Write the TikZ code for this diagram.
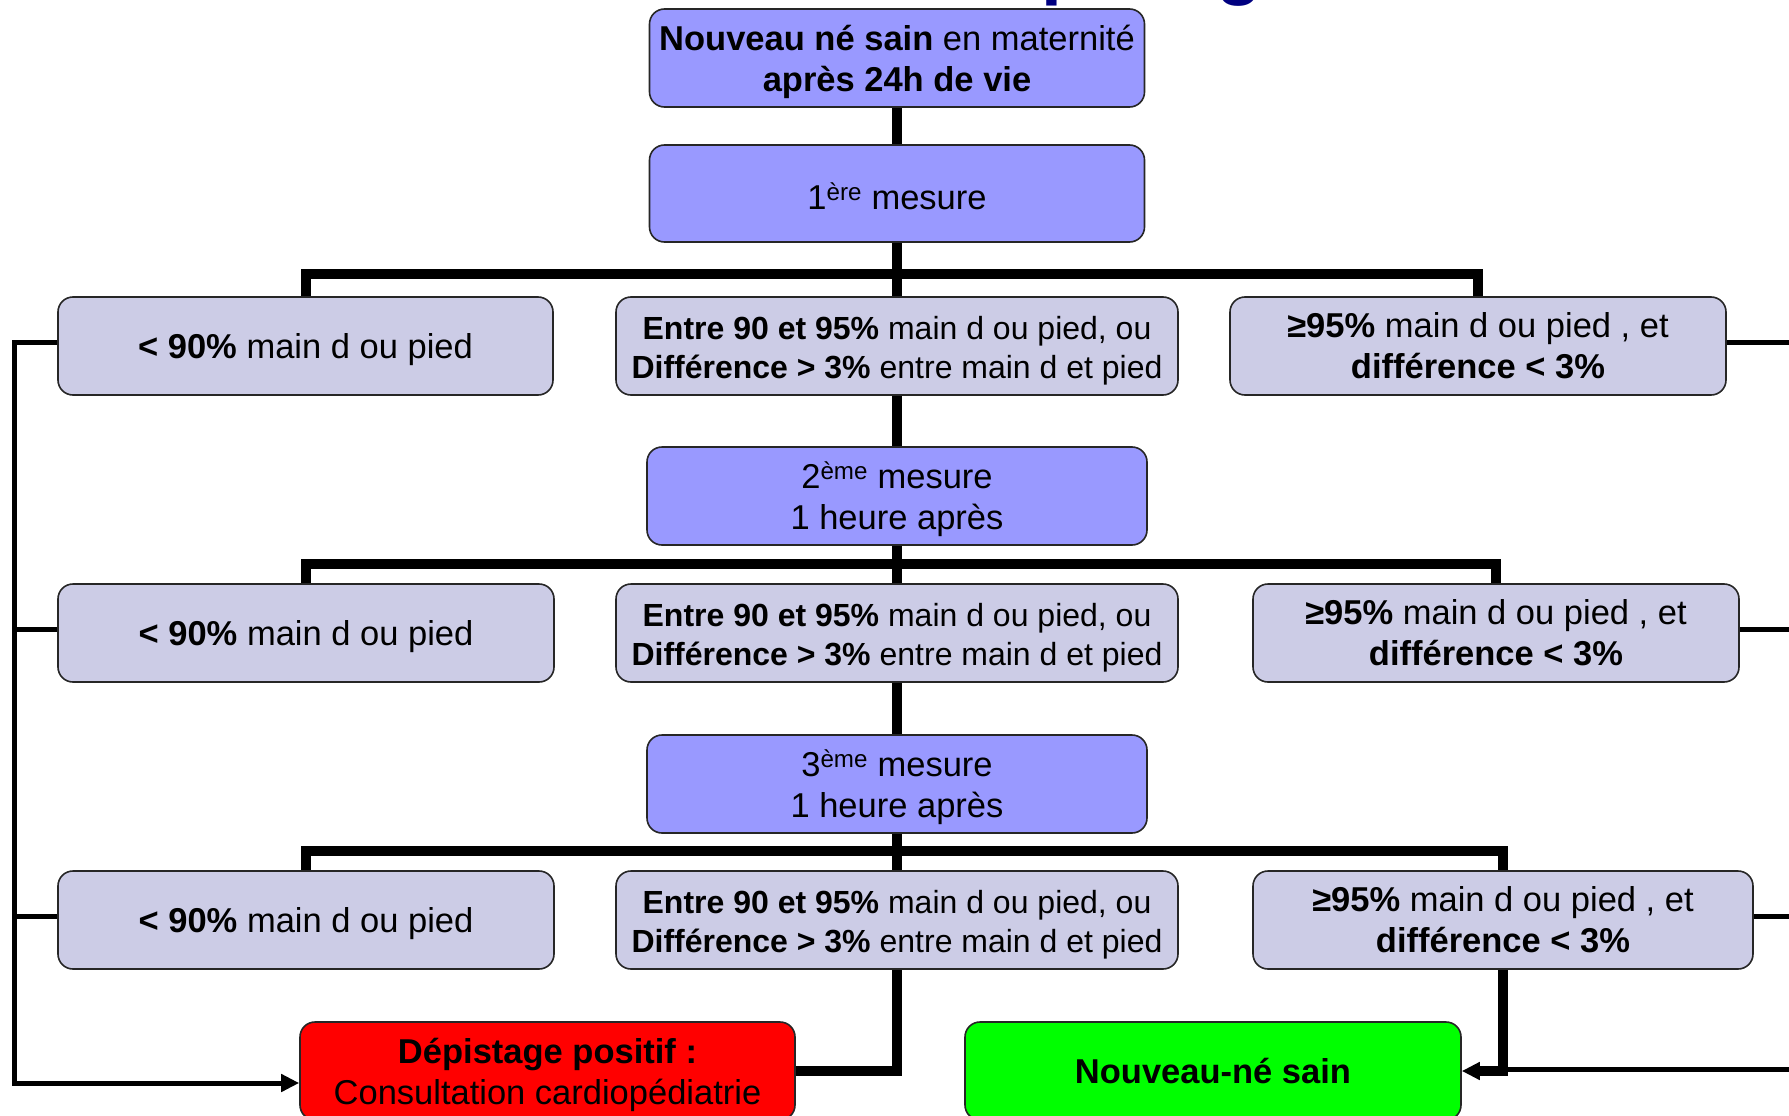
\documentclass[tikz,border=0pt]{standalone}
\usepackage{fontspec}
\setmainfont{Liberation Sans}
\usetikzlibrary{arrows.meta}
\definecolor{purp}{HTML}{9999FF}
\definecolor{lav}{HTML}{CCCCE6}
\definecolor{navyt}{HTML}{000080}
\definecolor{redbox}{HTML}{FF0000}
\definecolor{greenbox}{HTML}{00FF00}
\newcommand\lft[1]{\rule{0pt}{#1}}
\begin{document}
\begin{tikzpicture}[x=1pt,y=-1pt,
  box/.style={draw=black!85, line width=1.6pt, rounded corners=15pt, inner sep=0pt,
    align=center, font=\fontsize{34.5}{41}\selectfont, minimum height=98pt},
  lower/.style={execute at begin node={\rule{0pt}{#1}}},
  pbox/.style={box, fill=purp},
  lbox/.style={box, fill=lav},
  mtext/.style={font=\fontsize{32}{39}\selectfont},
  thk/.style={line width=10pt, line join=miter},
  thn/.style={line width=5pt, line join=miter},
  tip/.style={-{Triangle[length=18pt,width=17pt]}},
]
\useasboundingbox (0,0) rectangle (1789,1116);
\fill[white] (0,0) rectangle (1789,1116);

% partially visible title
\node[anchor=base west, text=navyt, font=\bfseries\fontsize{75}{80}\selectfont, inner sep=0pt] (title) at (954,-9) {dépistage};

% nodes
\node[pbox, minimum width=495pt, minimum height=98pt] (n0) at (897,58)
  {\lft{33pt}\textbf{Nouveau né sain} en maternité\\\textbf{après 24h de vie}};
\node[pbox, lower=33pt, minimum width=495pt, minimum height=97pt] (n1) at (897,193.5)
  {1\textsuperscript{ère} mesure};

\node[lbox, lower=33pt, minimum width=495pt] (l1) at (305.5,346) {\textbf{< 90\%} main d ou pied};
\node[lbox, mtext, minimum width=562pt] (m1) at (897,346)
  {\lft{32.5pt}\textbf{Entre 90 et 95\%} main d ou pied, ou\\\textbf{Différence > 3\%} entre main d et pied};
\node[lbox, minimum width=496pt] (r1) at (1478,346)
  {\textbf{≥95\%} main d ou pied , et\\\textbf{différence < 3\%}};

\node[pbox, minimum width=500pt] (n2) at (897,496) {\lft{34pt}2\textsuperscript{ème} mesure\\1 heure après};

\node[lbox, lower=33pt, minimum width=496pt] (l2) at (306,633) {\textbf{< 90\%} main d ou pied};
\node[lbox, mtext, minimum width=562pt] (m2) at (897,633)
  {\lft{32.5pt}\textbf{Entre 90 et 95\%} main d ou pied, ou\\\textbf{Différence > 3\%} entre main d et pied};
\node[lbox, minimum width=486pt] (r2) at (1496,633)
  {\textbf{≥95\%} main d ou pied , et\\\textbf{différence < 3\%}};

\node[pbox, minimum width=500pt] (n3) at (897,784) {\lft{34pt}3\textsuperscript{ème} mesure\\1 heure après};

\node[lbox, lower=33pt, minimum width=496pt] (l3) at (306,920) {\textbf{< 90\%} main d ou pied};
\node[lbox, mtext, minimum width=562pt] (m3) at (897,920)
  {\lft{32.5pt}\textbf{Entre 90 et 95\%} main d ou pied, ou\\\textbf{Différence > 3\%} entre main d et pied};
\node[lbox, minimum width=500pt] (r3) at (1503,920)
  {\textbf{≥95\%} main d ou pied , et\\\textbf{différence < 3\%}};

\node[box, fill=redbox, minimum width=495pt] (red) at (547.5,1071)
  {\lft{33pt}\textbf{Dépistage positif :}\\Consultation cardiopédiatrie};
\node[box, fill=greenbox, minimum width=496pt] (green) at (1213,1071)
  {\textbf{Nouveau-né sain}};

% coordinates
\coordinate (b1) at (897,274);
\coordinate (b2) at (897,564);
\coordinate (b3) at (897,851);
\coordinate (lt) at (14,342);
\coordinate (lb) at (14,1083);
\coordinate (rt) at (1800,342);
\coordinate (rb) at (1800,1069);

% main spine
\draw[thk] (n0.south) -- (n1.north);
\draw[thk] (n1.south) -- (m1.north);
\draw[thk] (l1.north) |- (b1) -| (r1.north);
\draw[thk] (m1.south) -- (n2.north);
\draw[thk] (n2.south) -- (m2.north);
\draw[thk] (l2.north) |- (b2) -| (r2.north);
\draw[thk] (m2.south) -- (n3.north);
\draw[thk] (n3.south) -- (m3.north);
\draw[thk] (l3.north) |- (b3) -| (r3.north);

% left collector
\draw[thn, tip] ([yshift=4pt]l1.west) -| (lb) -- (lb -| red.west);
\draw[thn] ([yshift=4pt]l2.west) -- ([yshift=4pt]l2.west -| lt);
\draw[thn] ([yshift=4pt]l3.west) -- ([yshift=4pt]l3.west -| lt);
\draw[thk] (m3.south) |- (red.east);

% right collector
\draw[thn] ([yshift=4pt]r1.east) -| (rb) -- (rb -| r3.south);
\draw[thn] ([yshift=4pt]r2.east) -- ([yshift=4pt]r2.east -| rt);
\draw[thn] ([yshift=4pt]r3.east) -- ([yshift=4pt]r3.east -| rt);
\draw[thk, tip] (r3.south) |- (green.east);
\end{tikzpicture}
\end{document}
